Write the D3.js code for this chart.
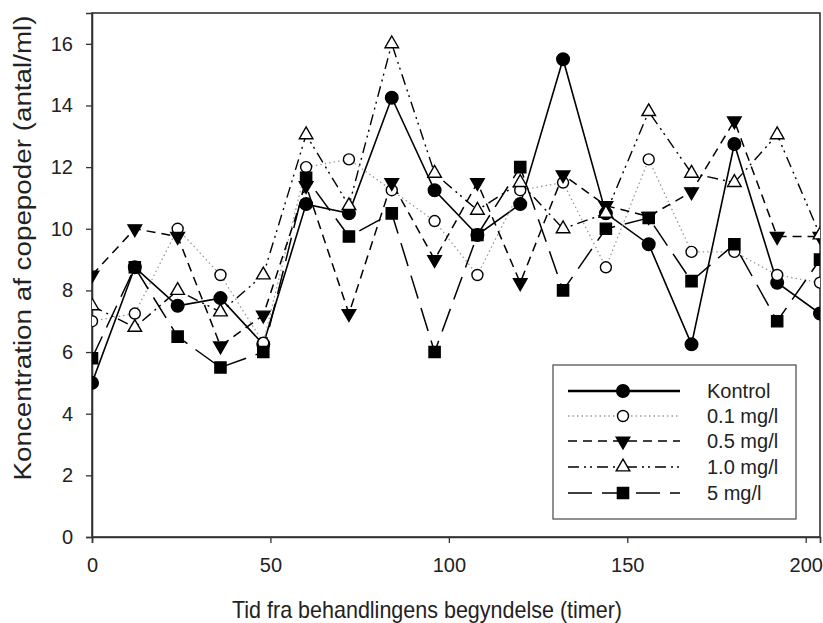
<!DOCTYPE html>
<html><head><meta charset="utf-8">
<script src="https://cdn.jsdelivr.net/npm/d3@7"></script>
<style>body{margin:0;background:#fff}svg{display:block}text{font-family:"Liberation Sans",Arial,sans-serif;fill:#222}</style>
</head><body><svg id="c" width="823" height="623"></svg>
<script>
const hours = [0,12,24,36,48,60,72,84,96,108,120,132,144,156,168,180,192,204];
const kontrol = [5.0,8.75,7.5,7.75,6.25,10.8,10.5,14.25,11.25,9.8,10.8,15.5,10.5,9.5,6.25,12.75,8.25,7.25];
const mg01 = [7.0,7.25,10.0,8.5,6.3,12.0,12.25,11.25,10.25,8.5,11.25,11.5,8.75,12.25,9.25,9.25,8.5,8.25];
const mg05 = [8.5,10.0,9.75,6.2,7.2,11.4,7.25,11.5,9.0,11.5,8.25,11.75,10.75,10.4,11.2,13.5,9.75,9.75];
const mg10 = [7.5,6.8,8.0,7.3,8.5,13.05,10.75,16.0,11.8,10.6,11.5,10.0,10.5,13.8,11.8,11.5,13.05,9.8];
const mg5 = [5.8,8.75,6.5,5.5,6.0,11.65,9.75,10.5,6.0,9.8,12.0,8.0,10.0,10.35,8.3,9.5,7.0,9.0];
const seriesNames = ["Kontrol","0.1 mg/l","0.5 mg/l","1.0 mg/l","5 mg/l"];
const xTicks = [0,50,100,150,200];
const yTicks = [0,2,4,6,8,10,12,14,16];

const styles = [
  {dash:null, color:"#000", w:1.6, sym:d3.symbolCircle, size:125, fill:"#000", rot:0},
  {dash:"1.5,3", color:"#999", w:1.3, sym:d3.symbolCircle, size:95, fill:"#fff", rot:0},
  {dash:"9,6", color:"#000", w:1.5, sym:d3.symbolTriangle, size:80, fill:"#000", rot:180},
  {dash:"11,5,2,4,2,5", color:"#000", w:1.4, sym:d3.symbolTriangle, size:80, fill:"#fff", rot:0},
  {dash:"24,10", color:"#000", w:1.5, sym:d3.symbolSquare, size:125, fill:"#000", rot:0}
];
const allSeries = [kontrol, mg01, mg05, mg10, mg5];

const svg = d3.select("#c");
const L=92, R=820, T=13, B=537;
const x = d3.scaleLinear().domain([0,204]).range([L,R]);
const y = d3.scaleLinear().domain([0,17]).range([B,T]);

svg.append("defs").append("clipPath").attr("id","clip").append("rect")
  .attr("x",L).attr("y",T).attr("width",R-L).attr("height",B-T);

// frame
svg.append("rect").attr("x",L).attr("y",T).attr("width",R-L).attr("height",B-T)
  .attr("fill","none").attr("stroke","#333").attr("stroke-width",1.6);

const xa = svg.append("g").attr("transform",`translate(0,${B})`)
  .call(d3.axisBottom(x).tickValues(xTicks).tickSize(6).tickPadding(15).tickFormat(d3.format("d")));
const ya = svg.append("g").attr("transform",`translate(${L},0)`)
  .call(d3.axisLeft(y).tickValues(yTicks).tickSize(6).tickPadding(13).tickFormat(d3.format("d")));
[xa,ya].forEach(a=>{
  a.select(".domain").attr("stroke","#333").attr("stroke-width",1.6);
  a.selectAll(".tick line").attr("stroke","#333").attr("stroke-width",1.3);
  a.selectAll("text").style("font-size","20px").attr("fill","#222");
});

const g = svg.append("g").attr("clip-path","url(#clip)");
const line = d3.line().x((d,i)=>x(hours[i])).y(d=>y(d));
allSeries.forEach((s,k)=>{
  const st = styles[k];
  g.append("path").datum(s).attr("d",line).attr("fill","none")
    .attr("stroke",st.color).attr("stroke-width",st.w)
    .attr("stroke-dasharray",st.dash);
});
allSeries.forEach((s,k)=>{
  const st = styles[k];
  g.selectAll(null).data(s).enter().append("path")
    .attr("d",d3.symbol().type(st.sym).size(st.size))
    .attr("transform",(d,i)=>`translate(${x(hours[i])},${y(d)}) rotate(${st.rot})`)
    .attr("fill",st.fill).attr("stroke","#000").attr("stroke-width",1.4);
});

// axis titles
svg.append("text").attr("x",427).attr("y",618).attr("text-anchor","middle")
  .attr("textLength",390).attr("lengthAdjust","spacingAndGlyphs")
  .style("font-size","24px").text("Tid fra behandlingens begyndelse (timer)");
svg.append("text").attr("transform","translate(31,248) rotate(-90)").attr("text-anchor","middle")
  .attr("textLength",465).attr("lengthAdjust","spacingAndGlyphs")
  .style("font-size","23px").text("Koncentration af copepoder (antal/ml)");

// legend
const lg = svg.append("g");
lg.append("rect").attr("x",553).attr("y",365).attr("width",243).attr("height",154)
  .attr("fill","#fff").attr("stroke","#555").attr("stroke-width",1.3);
const rows = [391,416,441,467,493];
seriesNames.forEach((n,k)=>{
  const st = styles[k], yy = rows[k];
  lg.append("line").attr("x1",568).attr("x2",680).attr("y1",yy).attr("y2",yy)
    .attr("stroke",st.color).attr("stroke-width",k===0?2.4:st.w).attr("stroke-dasharray",st.dash);
  lg.append("path").attr("d",d3.symbol().type(st.sym).size(st.size))
    .attr("transform",`translate(623,${yy}) rotate(${st.rot})`)
    .attr("fill",st.fill).attr("stroke","#000").attr("stroke-width",1.4);
  lg.append("text").attr("x",707).attr("y",yy+7).style("font-size","20px").text(n);
});
</script></body></html>
